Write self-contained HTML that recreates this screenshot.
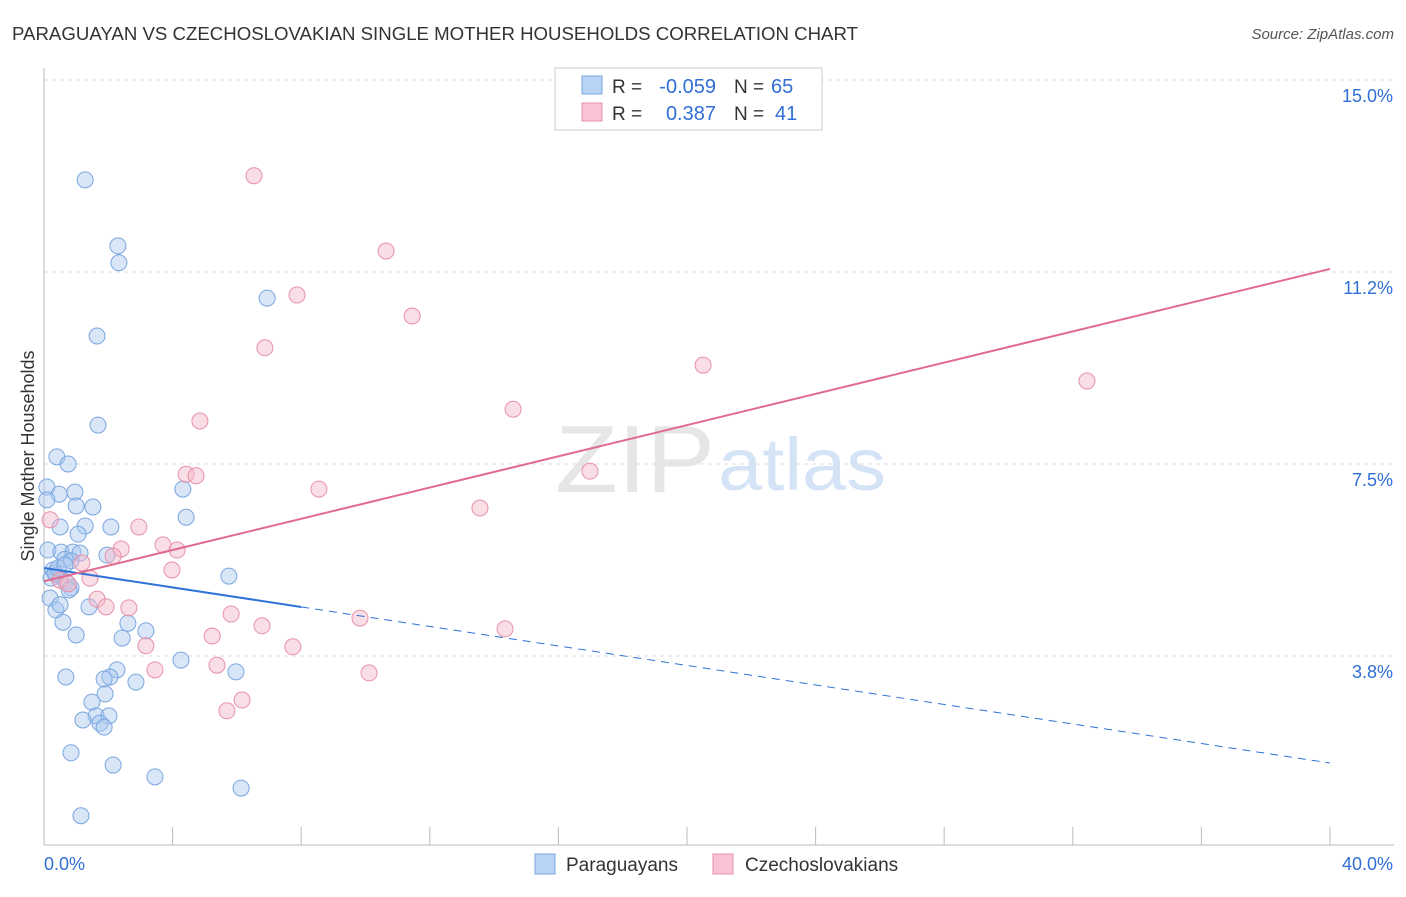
<!DOCTYPE html>
<html><head><meta charset="utf-8">
<style>
body{margin:0;background:#fff;font-family:"Liberation Sans",sans-serif;}
svg text{font-family:"Liberation Sans",sans-serif;}
</style></head>
<body>
<svg id="chart" width="1406" height="892" viewBox="0 0 1406 892">
<text x="12" y="40" font-size="18" fill="#333" textLength="846" lengthAdjust="spacingAndGlyphs">PARAGUAYAN VS CZECHOSLOVAKIAN SINGLE MOTHER HOUSEHOLDS CORRELATION CHART</text>
<text x="1394" y="39" font-size="15" fill="#555" text-anchor="end" font-style="italic">Source: ZipAtlas.com</text>
<text x="555" y="492" font-size="96" fill="#e6e6e6" textLength="160" lengthAdjust="spacingAndGlyphs" font-family="Liberation Serif">ZIP</text>
<text x="718" y="490" font-size="74" fill="#d4e4f6" textLength="168" lengthAdjust="spacingAndGlyphs">atlas</text>
<g id="grid"></g>
<g id="axes"></g>
<g id="pts"></g>
<g id="lines"></g>
<text transform="translate(34,456) rotate(-90)" font-size="18" fill="#333" text-anchor="middle">Single Mother Households</text>
<g>
<rect x="555" y="68" width="267" height="62" fill="#fff" stroke="#ccc"/>
<rect x="582" y="76" width="20" height="18" fill="#b8d3f4" stroke="#7aa6e0"/>
<rect x="582" y="103" width="20" height="18" fill="#f8c4d4" stroke="#e890aa"/>
<text x="612" y="93" font-size="19" fill="#333">R =</text>
<text x="716" y="93" font-size="20" fill="#2f6fd6" text-anchor="end">-0.059</text>
<text x="734" y="93" font-size="19" fill="#333">N =</text>
<text x="771" y="93" font-size="20" fill="#2f6fd6">65</text>
<text x="612" y="120" font-size="19" fill="#333">R =</text>
<text x="716" y="120" font-size="20" fill="#2f6fd6" text-anchor="end">0.387</text>
<text x="734" y="120" font-size="19" fill="#333">N =</text>
<text x="775" y="120" font-size="20" fill="#2f6fd6">41</text>
</g>
<g>
<rect x="535" y="854" width="20" height="20" fill="#b8d3f4" stroke="#7aa6e0"/>
<text x="566" y="871" font-size="19" fill="#333">Paraguayans</text>
<rect x="713" y="854" width="20" height="20" fill="#f8c4d4" stroke="#e890aa"/>
<text x="745" y="871" font-size="19" fill="#333">Czechoslovakians</text>
</g>
</svg>
<script>
const blueX=[1.28,2.30,2.33,6.94,1.65,1.68,0.40,0.75,0.09,0.47,0.96,4.32,1.0,1.52,4.42,0.5,1.28,2.08,1.06,0.12,0.53,0.9,1.12,1.96,0.65,0.84,0.28,0.40,0.22,0.68,0.84,5.75,0.19,1.40,0.37,0.59,2.61,3.17,1.0,2.43,4.26,5.97,2.27,0.68,2.05,1.87,2.86,1.90,1.49,1.62,2.02,1.21,1.74,1.87,0.84,2.15,3.45,6.13,1.15,0.09,0.34,0.44,0.65,0.78,0.5];
const blueY=[13.05,11.76,11.43,10.74,10.0,8.26,7.64,7.5,7.05,6.91,6.95,7.01,6.68,6.66,6.46,6.27,6.29,6.27,6.13,5.82,5.78,5.78,5.76,5.72,5.64,5.61,5.43,5.33,5.27,5.2,5.08,5.31,4.88,4.71,4.65,4.41,4.39,4.24,4.16,4.10,3.67,3.44,3.48,3.34,3.34,3.30,3.24,3.01,2.85,2.58,2.58,2.5,2.44,2.36,1.86,1.62,1.39,1.17,0.63,6.8,5.37,5.47,5.53,5.04,4.75];
const pinkX=[6.53,10.64,7.87,11.45,6.87,20.5,32.44,14.59,4.85,4.42,4.73,8.55,16.98,13.56,2.95,3.70,2.40,4.14,2.15,1.18,3.98,1.43,0.5,0.75,1.65,1.93,2.64,5.82,9.83,14.34,6.78,5.23,7.74,3.17,3.45,5.38,10.11,6.16,5.69,0.19];
const pinkY=[13.13,11.66,10.8,10.39,9.77,9.43,9.12,8.57,8.34,7.3,7.27,7.01,7.36,6.64,6.27,5.92,5.84,5.82,5.70,5.57,5.43,5.27,5.23,5.16,4.86,4.71,4.69,4.57,4.49,4.28,4.34,4.14,3.93,3.95,3.48,3.57,3.42,2.89,2.68,6.41];
const yTicks=[15.0,11.25,7.5,3.75];
const yTickLabels=["15.0%","11.2%","7.5%","3.8%"];
const blueTrend=[5.47,1.66];
const blueSolidEnd=8;
const pinkTrend=[5.21,11.31];
const xMin=0,xMax=40;

const NS="http://www.w3.org/2000/svg";
const sx=v=>44+(v-xMin)/(xMax-xMin)*1286;
const sy=v=>848-v/3.75*192;
function mk(tag,attrs,parent){const e=document.createElementNS(NS,tag);for(const k in attrs)e.setAttribute(k,attrs[k]);parent.appendChild(e);return e;}
const grid=document.getElementById('grid'),axes=document.getElementById('axes'),pts=document.getElementById('pts'),lines=document.getElementById('lines');
yTicks.forEach((t,i)=>{
  const g=mk('line',{x1:44,x2:1394,y1:sy(t),y2:sy(t),stroke:'#ddd','stroke-dasharray':'4,4'},grid);
  
  
  const tx=mk('text',{x:1393,y:sy(t)+22,'font-size':18,fill:'#2f6fd6','text-anchor':'end'},axes);
  tx.textContent=yTickLabels[i];
  
  
});
const ya=mk('line',{x1:44,x2:44,y1:68,y2:845,stroke:'#bbb'},axes);


const xa=mk('line',{x1:44,x2:1394,y1:845,y2:845,stroke:'#bbb'},axes);


for(let v=0;v<=40;v+=4){
  const tk=mk('line',{x1:sx(v),x2:sx(v),y1:827,y2:845,stroke:'#bbb'},axes);
  
  
}
const xl0=mk('text',{x:44,y:870,'font-size':18,fill:'#2f6fd6'},axes);xl0.textContent="0.0%";


const xl1=mk('text',{x:1393,y:870,'font-size':18,fill:'#2f6fd6','text-anchor':'end'},axes);xl1.textContent="40.0%";


blueX.forEach((x,i)=>{
  const c=mk('circle',{cx:sx(x),cy:sy(blueY[i]),r:8,fill:'rgba(168,200,240,0.45)',stroke:'#7aa6e0','stroke-width':1},pts);
  
  
});
pinkX.forEach((x,i)=>{
  const c=mk('circle',{cx:sx(x),cy:sy(pinkY[i]),r:8,fill:'rgba(244,182,200,0.45)',stroke:'#e890aa','stroke-width':1},pts);
  
  
});
const bAt=x=>blueTrend[0]+(blueTrend[1]-blueTrend[0])*x/xMax;
const l1=mk('line',{x1:sx(0),y1:sy(bAt(0)),x2:sx(blueSolidEnd),y2:sy(bAt(blueSolidEnd)),stroke:'#2f72d8','stroke-width':2},lines);


const l2=mk('line',{x1:sx(blueSolidEnd),y1:sy(bAt(blueSolidEnd)),x2:sx(xMax),y2:sy(bAt(xMax)),stroke:'#2f72d8','stroke-width':1,'stroke-dasharray':'8,6'},lines);


const l3=mk('line',{x1:sx(0),y1:sy(pinkTrend[0]),x2:sx(xMax),y2:sy(pinkTrend[1]),stroke:'#e06a92','stroke-width':2},lines);


</script>
</body></html>
